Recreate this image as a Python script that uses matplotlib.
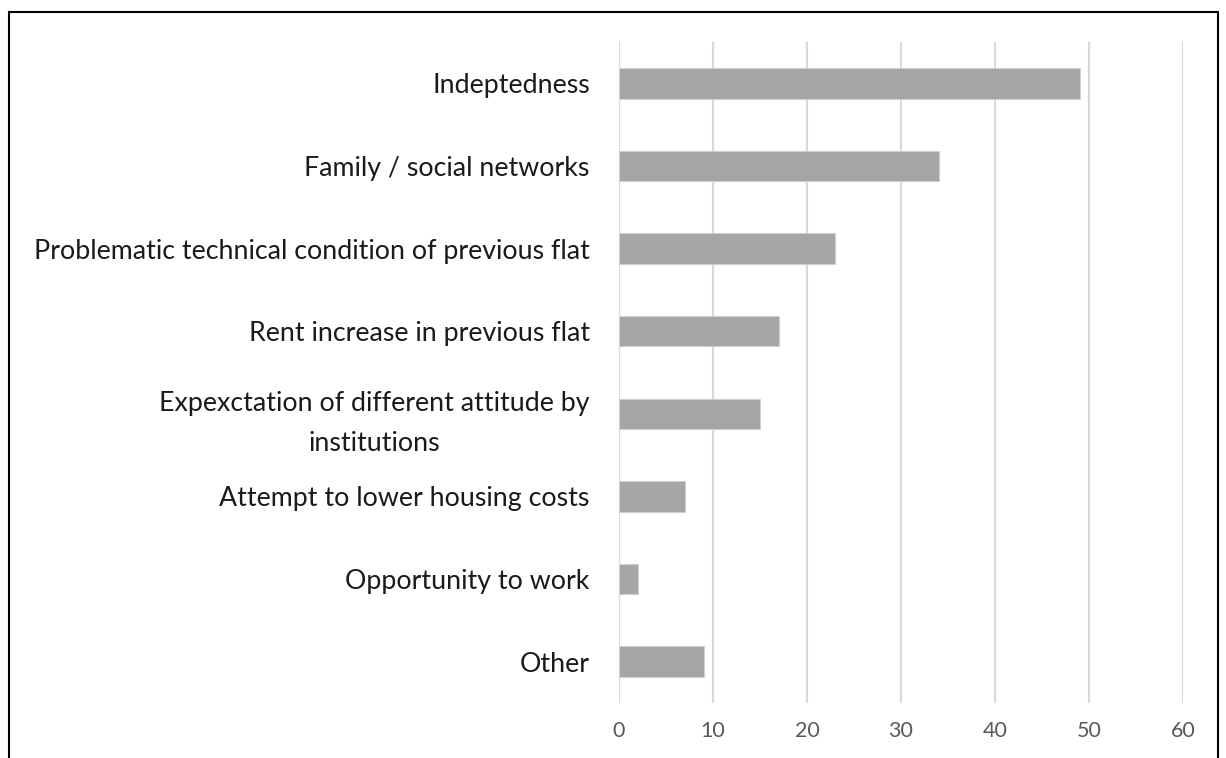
import matplotlib.pyplot as plt
from matplotlib.patches import Rectangle

categories = [
    'Indeptedness',
    'Family / social networks',
    'Problematic technical condition of previous flat',
    'Rent increase in previous flat',
    'Expexctation of different attitude by\ninstitutions',
    'Attempt to lower housing costs',
    'Opportunity to work',
    'Other',
]
values = [49, 34, 23, 17, 15, 7, 2, 9]
x_ticks = [0, 10, 20, 30, 40, 50, 60]

plt.rcParams['font.family'] = ['Lato', 'DejaVu Sans']

fig = plt.figure(figsize=(12.26, 7.58), dpi=100)
ax = fig.add_axes([619 / 1226, 1 - 703 / 758, (1183 - 619) / 1226, (703 - 42) / 758])

y = list(range(len(categories)))
ax.barh(y, values, height=0.37, color='#A5A5A5', edgecolor='#D0D0D0', linewidth=0.8, zorder=3)

ax.set_xlim(0, 60)
ax.set_ylim(len(categories) - 0.5, -0.5)
ax.set_xticks(x_ticks)
ax.set_xticklabels([str(t) for t in x_ticks], fontsize=15.5, color='#595959')
ax.set_yticks(y)
ax.set_yticklabels(categories, fontsize=19.3, color='#1a1a1a',
                   multialignment='center', linespacing=1.75)
ax.tick_params(axis='both', length=0)
ax.tick_params(axis='x', pad=13)
ax.tick_params(axis='y', pad=21)

ax.grid(axis='x', color='#D9D9D9', linewidth=1.5, zorder=0)
for s in ax.spines.values():
    s.set_visible(False)

# outer frame around the chart
fig.patches.append(Rectangle((9 / 1226, -0.05), (1218 - 9) / 1226, 1.05 - 12 / 758,
                             transform=fig.transFigure, fill=False,
                             edgecolor='black', linewidth=1.5))

fig.savefig('out.png', dpi=100)
